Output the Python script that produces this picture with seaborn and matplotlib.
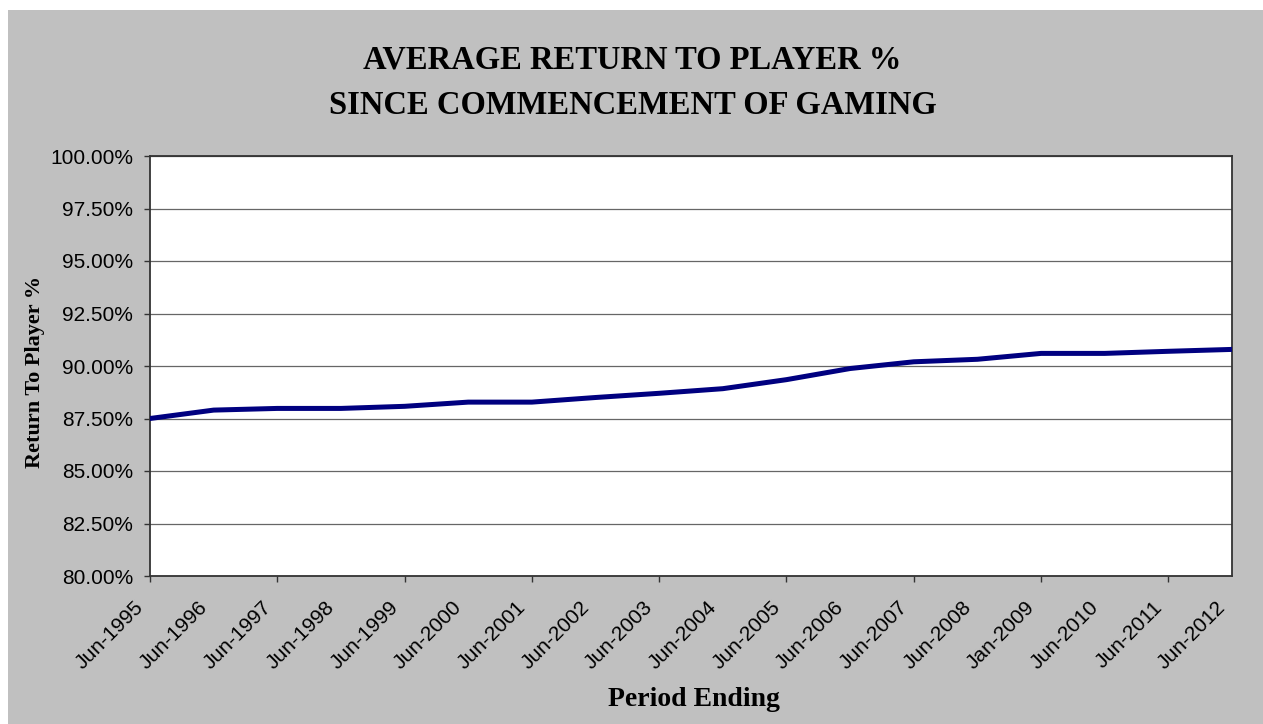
import matplotlib
matplotlib.use("Agg")
import matplotlib.pyplot as plt
import matplotlib.transforms as mtransforms
import seaborn as sns
import pandas as pd
from matplotlib.patches import Rectangle
from matplotlib.ticker import FuncFormatter, FixedLocator

periods = ["Jun-1995", "Jun-1996", "Jun-1997", "Jun-1998", "Jun-1999", "Jun-2000",
           "Jun-2001", "Jun-2002", "Jun-2003", "Jun-2004", "Jun-2005", "Jun-2006",
           "Jun-2007", "Jun-2008", "Jan-2009", "Jun-2010", "Jun-2011", "Jun-2012"]
rtp = [87.50, 87.90, 87.98, 87.98, 88.08, 88.28, 88.28, 88.50, 88.70, 88.92,
       89.35, 89.88, 90.20, 90.32, 90.60, 90.60, 90.70, 90.79]
yticks = [80.0, 82.5, 85.0, 87.5, 90.0, 92.5, 95.0, 97.5, 100.0]

sns.set_theme(style="white")
plt.rcParams["font.family"] = ["Liberation Sans", "DejaVu Sans"]
plt.rcParams["text.color"] = "black"

W, H = 1263, 724
fig = plt.figure(figsize=(W / 100, H / 100), dpi=100)
fig.patch.set_facecolor("white")
fig.patches.append(Rectangle((8 / W, 0), 1, 1 - 10 / H, transform=fig.transFigure,
                             facecolor="#c0c0c0", edgecolor="none", zorder=-10))

ax = fig.add_axes([150 / W, (H - 576) / H, (1232 - 150) / W, (576 - 156) / H])
ax.set_facecolor("white")

df = pd.DataFrame({"idx": range(len(periods)), "rtp": rtp})
sns.lineplot(data=df, x="idx", y="rtp", ax=ax, color="#000080", linewidth=3.6,
             solid_capstyle="round", zorder=3)

ax.set_xlim(0, len(periods) - 1)
ax.set_ylim(80, 100)
ax.set_yticks(yticks)
ax.yaxis.set_major_formatter(FuncFormatter(lambda v, p: f"{v:.2f}%"))
ax.grid(axis="y", color="#666666", linewidth=0.9)
ax.grid(axis="x", visible=False)

ax.set_xticks(range(len(periods)))
ax.set_xticklabels(periods, rotation=45, ha="right", rotation_mode="anchor")
ax.xaxis.remove_overlapping_locs = False
ax.xaxis.set_minor_locator(FixedLocator(list(range(0, len(periods), 2))))

ax.tick_params(axis="x", which="major", length=0, labelsize=15, labelcolor="black", pad=12)
ax.tick_params(axis="x", which="minor", direction="out", length=4.3, width=1,
               color="#333333", bottom=True)
ax.tick_params(axis="y", which="major", direction="out", length=4.3, width=1,
               color="#333333", labelsize=15, labelcolor="black", pad=8, left=True)

offset = mtransforms.ScaledTranslation(-16 / 100, -5 / 100, fig.dpi_scale_trans)
for lab in ax.get_xticklabels():
    lab.set_transform(lab.get_transform() + offset)

for s in ax.spines.values():
    s.set_visible(True)
    s.set_color("#333333")
    s.set_linewidth(1.3)

ax.set_xlabel("")
ax.set_ylabel("")

serif = ["Liberation Serif", "DejaVu Serif"]
fig.text(0.5 + 1 / W, 1 - 60 / H, "AVERAGE RETURN TO PLAYER %", ha="center", va="center",
         fontsize=23.5, fontweight="bold", family=serif, color="black")
fig.text(0.5 + 1 / W, 1 - 106 / H, "SINCE COMMENCEMENT OF GAMING", ha="center", va="center",
         fontsize=23.5, fontweight="bold", family=serif, color="black")
fig.text(35 / W, 1 - 372 / H, "Return To Player %", rotation=90, ha="center", va="center",
         fontsize=16, fontweight="bold", family=serif, color="black")
fig.text(694 / W, 1 - 700 / H, "Period Ending", ha="center", va="center",
         fontsize=20, fontweight="bold", family=serif, color="black")

fig.savefig("out.png", dpi=100, facecolor=fig.get_facecolor())
